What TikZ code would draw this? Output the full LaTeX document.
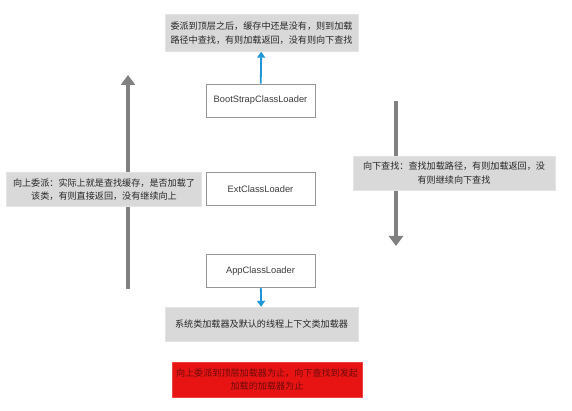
\documentclass[tikz,border=0pt]{standalone}
\usepackage{fontspec}
\setmainfont{Liberation Sans}
\newfontfamily\cjk{Noto Sans CJK SC}
\usepackage{xcolor}
\usetikzlibrary{arrows.meta,positioning}
\definecolor{notegray}{RGB}{217,217,217}
\definecolor{edgegray}{RGB}{150,150,150}
\definecolor{flowgray}{RGB}{128,128,128}
\definecolor{callblue}{RGB}{30,150,215}
\definecolor{stopred}{RGB}{232,20,20}
\definecolor{stoptext}{RGB}{110,10,10}
\definecolor{loadertext}{RGB}{60,60,60}

\begin{document}
\begin{tikzpicture}[
    x=1pt, y=-1pt,
    loader/.style={draw=edgegray, line width=0.8pt, fill=white, text=loadertext,
                   minimum width=109pt, minimum height=33pt,
                   font=\fontsize{9.3}{11}\selectfont},
    note/.style={fill=notegray, draw=notegray!70!white, align=center,
                 inner sep=2pt, text=black!85,
                 font=\cjk\fontsize{9.1}{13.5}\selectfont},
    bigarr/.style={-{Triangle[width=14pt,length=10pt]}, flowgray, line width=3.2pt},
    blarr/.style={-{Triangle[width=8pt,length=6pt]}, callblue, line width=1.8pt}
  ]
  \useasboundingbox (0,0) rectangle (572,411);
  % free ends of the two long arrows
  \coordinate (upfrom) at (128,289);
  \coordinate (upto) at (128,75);
  \coordinate (downfrom) at (396,101);
  \coordinate (downto) at (396,246);
  \draw[bigarr] (upfrom) -- (upto);
  \draw[bigarr] (downfrom) -- (downto);
  % class loaders
  \node[loader] (boot) at (260.5,100.5) {BootStrapClassLoader};
  \node[loader] (ext) at (260.5,189) {ExtClassLoader};
  \node[loader] (app) at (260.5,271) {AppClassLoader};
  % notes
  \node[note, minimum width=193pt, minimum height=37pt] (topnote) at (261.5,33)
    {委派到顶层之后，缓存中还是没有，则到加载\\路径中查找，有则加载返回，没有则向下查找};
  \node[note, minimum width=195pt, minimum height=34pt] (upnote) at (104,189.5)
    {向上委派：实际上就是查找缓存，是否加载了\\该类，有则直接返回，没有继续向上};
  \node[note, minimum width=202pt, minimum height=34pt] (downnote) at (454,173)
    {向下查找：查找加载路径，有则加载返回，没\\有则继续向下查找};
  \node[note, minimum width=193pt, minimum height=34pt] (sysnote) at (261.5,324)
    {系统类加载器及默认的线程上下文类加载器};
  \node[note, fill=stopred, draw=stopred!80!white, text=stoptext,
        minimum width=190pt, minimum height=35pt] (stopnote) at (267,379.5)
    {向上委派到顶层加载器为止，向下查找到发起\\加载的加载器为止};

  \draw[blarr] (boot) -- (topnote);
  \draw[blarr] (app) -- (sysnote);
\end{tikzpicture}
\end{document}
